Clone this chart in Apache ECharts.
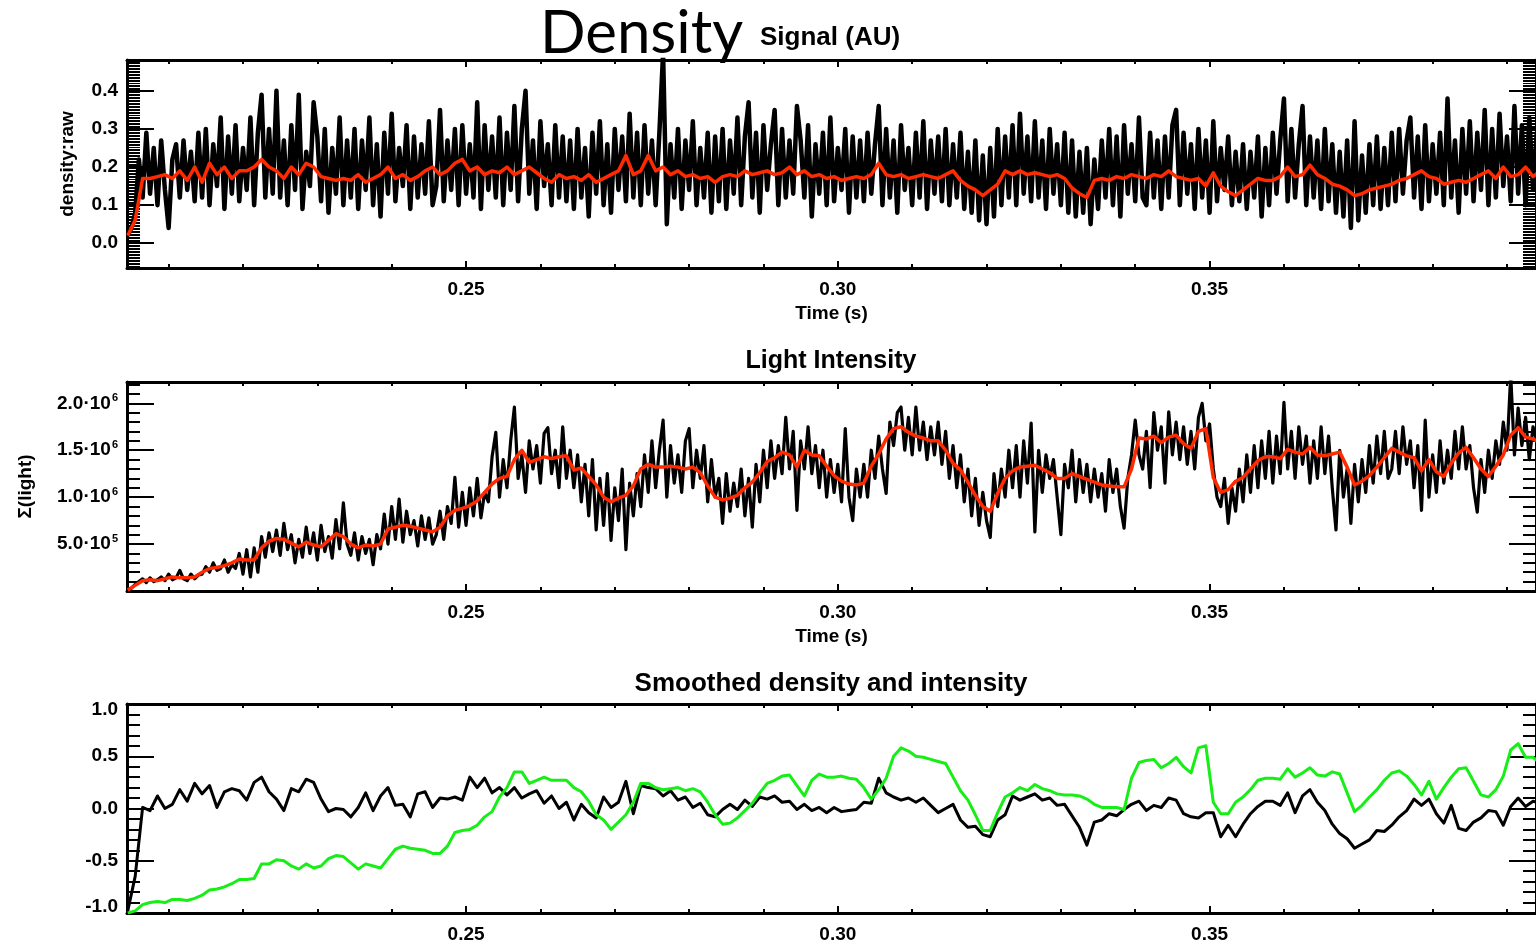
<!DOCTYPE html>
<html><head><meta charset="utf-8">
<script src="https://cdn.jsdelivr.net/npm/echarts@6/dist/echarts.min.js"></script>
<style>html,body{margin:0;padding:0;background:#fff}#c{width:1536px;height:946px}</style>
</head><body><div id="c"></div>
<script>
// ---- sampling of the time axis (s) ----
const RAW_T0 = 0.2045, RAW_DT = 0.0005;
const SM_T0 = 0.2045, SM_DT = 0.001;

// ---- panel 1: raw density (AU) ----
const densityRaw = [
0.02,0.04,0.08,0.22,0.12,0.29,0.13,0.25,0.1,0.27,0.14,0.04,0.22,0.26,0.12,0.27,0.14,0.24,0.11,0.29,
0.12,0.3,0.1,0.26,0.15,0.33,0.09,0.28,0.13,0.31,0.11,0.25,0.14,0.33,0.1,0.29,0.39,0.12,0.3,0.13,
0.4,0.12,0.27,0.1,0.31,0.14,0.39,0.09,0.24,0.15,0.37,0.28,0.11,0.3,0.08,0.25,0.13,0.33,0.1,0.27,
0.12,0.3,0.09,0.27,0.14,0.33,0.1,0.26,0.07,0.29,0.13,0.34,0.11,0.25,0.15,0.31,0.09,0.28,0.12,0.26,
0.13,0.32,0.1,0.15,0.35,0.11,0.27,0.14,0.3,0.1,0.31,0.13,0.26,0.12,0.37,0.09,0.31,0.14,0.28,
0.12,0.33,0.1,0.29,0.14,0.36,0.11,0.3,0.4,0.13,0.27,0.09,0.32,0.15,0.26,0.1,0.31,0.12,0.28,0.11,
0.27,0.09,0.3,0.12,0.25,0.07,0.29,0.13,0.32,0.1,0.26,0.08,0.3,0.14,0.28,0.11,0.34,0.12,0.29,0.1,
0.31,0.13,0.27,0.1,0.29,0.5,0.05,0.26,0.12,0.3,0.09,0.27,0.14,0.32,0.1,0.25,0.12,0.29,0.08,0.28,
0.11,0.3,0.09,0.27,0.13,0.33,0.1,0.28,0.37,0.12,0.29,0.08,0.31,0.14,0.26,0.35,0.1,0.3,0.12,0.27,
0.13,0.36,0.27,0.12,0.31,0.07,0.26,0.13,0.29,0.1,0.33,0.11,0.25,0.14,0.3,0.08,0.28,0.12,0.27,
0.11,0.29,0.13,0.26,0.36,0.1,0.3,0.12,0.27,0.08,0.31,0.14,0.25,0.1,0.29,0.12,0.32,0.09,0.27,0.13,
0.28,0.11,0.3,0.1,0.26,0.12,0.29,0.09,0.24,0.08,0.27,0.06,0.23,0.05,0.25,0.07,0.3,0.1,0.28,0.12,
0.31,0.1,0.34,0.13,0.28,0.11,0.32,0.12,0.27,0.09,0.3,0.13,0.26,0.1,0.29,0.08,0.27,0.07,0.24,0.08,
0.25,0.05,0.22,0.09,0.27,0.12,0.3,0.1,0.28,0.07,0.31,0.13,0.26,0.11,0.33,0.12,0.1,0.29,0.12,0.27,0.09,
0.28,0.12,0.31,0.35,0.1,0.29,0.13,0.26,0.09,0.3,0.12,0.27,0.08,0.32,0.11,0.25,0.14,0.28,0.1,0.24,
0.11,0.26,0.09,0.24,0.12,0.28,0.07,0.25,0.1,0.29,0.13,0.27,0.38,0.11,0.3,0.12,0.26,0.36,0.1,0.28,
0.12,0.27,0.09,0.3,0.11,0.26,0.08,0.24,0.07,0.27,0.04,0.32,0.06,0.23,0.08,0.26,0.1,0.28,0.09,0.25,0.1,
0.29,0.11,0.3,0.13,0.27,0.33,0.12,0.28,0.09,0.31,0.11,0.26,0.13,0.29,0.1,0.38,0.12,0.27,0.08,0.3,
0.13,0.32,0.11,0.29,0.14,0.35,0.1,0.3,0.12,0.34,0.15,0.28,0.11,0.36,0.13,0.31,0.1,0.33,0.14,0.29,
0.12,0.3,0.15];

// ---- panel 1: smoothed density (AU) ----
const densitySmooth = [
0.02,0.06,0.17,0.17,0.175,0.18,0.17,0.19,0.165,0.2,
0.16,0.21,0.18,0.2,0.17,0.19,0.19,0.2,0.22,0.2,
0.19,0.17,0.2,0.18,0.21,0.2,0.175,0.17,0.165,0.17,
0.165,0.18,0.16,0.17,0.18,0.2,0.17,0.18,0.165,0.175,
0.19,0.2,0.18,0.19,0.21,0.22,0.19,0.2,0.18,0.19,
0.185,0.2,0.18,0.19,0.2,0.185,0.17,0.16,0.18,0.17,
0.175,0.165,0.18,0.16,0.17,0.18,0.19,0.23,0.18,0.19,
0.23,0.19,0.2,0.18,0.19,0.175,0.18,0.17,0.175,0.16,
0.175,0.18,0.175,0.19,0.18,0.185,0.19,0.18,0.185,0.2,
0.18,0.19,0.175,0.18,0.17,0.175,0.165,0.17,0.175,0.17,
0.18,0.21,0.18,0.175,0.18,0.17,0.175,0.18,0.175,0.17,
0.18,0.19,0.165,0.15,0.14,0.125,0.14,0.155,0.19,0.18,
0.19,0.18,0.185,0.18,0.175,0.18,0.17,0.145,0.13,0.12,
0.165,0.17,0.165,0.175,0.17,0.18,0.175,0.17,0.18,0.175,
0.19,0.175,0.17,0.165,0.17,0.15,0.185,0.15,0.135,0.125,
0.14,0.155,0.17,0.165,0.165,0.175,0.2,0.175,0.18,0.205,
0.18,0.17,0.155,0.15,0.14,0.125,0.13,0.14,0.145,0.15,
0.155,0.165,0.17,0.18,0.19,0.175,0.17,0.155,0.16,0.165,
0.16,0.17,0.18,0.19,0.17,0.2,0.175,0.18,0.2,0.175,
0.19,0.18];

// ---- panel 2: raw light intensity (millions) ----
const lightRawM = [
0.0,0.03,0.07,0.1,0.13,0.09,0.14,0.1,0.12,0.15,0.11,0.18,0.12,0.14,0.22,0.13,0.11,0.18,0.13,0.17,
0.18,0.26,0.2,0.3,0.22,0.24,0.33,0.2,0.28,0.24,0.4,0.18,0.44,0.15,0.46,0.2,0.58,0.36,0.62,0.42,
0.65,0.38,0.72,0.44,0.6,0.3,0.55,0.36,0.68,0.4,0.62,0.33,0.7,0.42,0.58,0.35,0.76,0.45,0.94,0.5,
0.38,0.62,0.33,0.58,0.4,0.55,0.28,0.6,0.45,0.82,0.5,0.9,0.55,0.98,0.52,0.85,0.6,0.75,0.48,0.8,
0.55,0.78,0.5,0.6,0.85,0.55,0.9,0.72,1.21,0.68,1.05,0.7,1.1,0.8,1.2,0.78,1.05,0.95,1.43,
1.69,1.0,1.4,1.1,1.6,1.96,1.2,1.45,1.05,1.6,1.3,1.55,1.15,1.68,1.74,1.25,1.5,1.1,1.75,1.2,
1.5,1.1,1.45,0.95,1.35,0.8,1.4,0.65,1.2,0.7,1.25,0.54,1.1,0.75,1.3,0.44,1.15,0.8,1.25,0.9,
1.45,1.05,1.6,1.1,1.5,1.82,1.0,1.55,1.15,1.45,1.05,1.6,1.73,1.1,1.5,1.2,1.55,0.95,1.4,1.0,
1.2,0.72,1.25,0.85,1.15,0.9,1.3,0.8,1.2,0.68,1.35,0.95,1.5,1.1,1.6,1.2,1.55,1.25,1.85,1.3,
1.7,0.86,1.6,1.3,1.75,1.25,1.55,1.1,1.5,1.0,1.4,1.05,1.35,0.95,1.73,1.0,0.75,1.3,1.0,
1.35,1.0,1.5,1.2,1.65,1.3,1.04,1.8,1.55,1.9,1.96,1.5,1.85,1.45,1.96,1.5,1.8,1.4,1.75,1.45,
1.8,1.35,1.7,1.2,1.55,1.1,1.45,0.95,1.3,0.8,1.2,0.7,1.05,0.75,0.57,1.25,0.9,1.3,1.0,1.5,
1.1,1.55,1.0,1.6,1.15,1.79,0.63,1.5,1.05,1.45,1.2,1.4,1.0,0.6,1.35,1.1,1.5,0.95,1.4,1.05,
1.35,0.95,1.3,1.0,1.25,0.85,1.4,1.05,1.3,0.9,0.67,1.2,1.45,1.82,1.45,1.3,1.7,1.1,1.9,1.5,1.75,
1.15,1.91,1.45,1.8,1.4,1.75,1.35,1.7,1.3,1.85,2.0,1.6,1.78,1.3,1.0,0.9,1.2,0.72,1.1,0.85,
1.3,0.95,1.45,1.05,1.55,1.1,1.6,1.2,1.7,1.15,1.65,1.25,2.01,1.3,1.7,1.2,1.75,1.35,1.65,1.15,
1.6,1.2,1.75,1.25,1.65,1.1,0.65,1.5,1.0,1.3,0.72,1.35,0.95,1.4,1.05,1.55,1.15,1.65,1.25,1.7,1.2,
1.3,1.7,1.25,1.75,1.35,1.6,1.1,1.55,0.86,1.82,1.0,1.45,1.05,1.6,1.15,1.5,1.2,1.7,1.3,1.75,
1.3,1.55,1.1,0.84,1.4,1.05,1.5,1.2,1.6,1.35,1.8,1.5,2.3,1.45,1.95,1.55,1.85,1.4,1.75,1.6,
1.5,1.7,1.45];

// ---- panel 2: smoothed light intensity (millions) ----
const lightSmoothM = [
0.01,0.06,0.11,0.12,0.11,0.13,0.15,0.14,0.14,0.15,
0.2,0.24,0.25,0.27,0.3,0.34,0.33,0.33,0.46,0.53,
0.56,0.55,0.51,0.47,0.52,0.49,0.47,0.54,0.61,0.58,
0.5,0.46,0.49,0.48,0.5,0.66,0.68,0.7,0.69,0.67,
0.65,0.63,0.68,0.8,0.86,0.88,0.91,0.96,1.05,1.14,
1.2,1.22,1.4,1.5,1.37,1.4,1.43,1.41,1.43,1.44,
1.29,1.31,1.22,1.13,1.0,0.95,0.99,1.02,1.12,1.3,
1.35,1.32,1.32,1.33,1.32,1.3,1.32,1.26,1.12,1.0,
0.97,0.99,1.02,1.1,1.16,1.26,1.38,1.42,1.48,1.45,
1.32,1.5,1.45,1.44,1.33,1.23,1.17,1.14,1.13,1.15,
1.33,1.46,1.62,1.73,1.75,1.69,1.65,1.63,1.6,1.6,
1.5,1.36,1.29,1.16,1.02,0.9,0.85,1.04,1.2,1.28,
1.32,1.33,1.34,1.3,1.26,1.2,1.2,1.25,1.22,1.19,
1.16,1.13,1.12,1.11,1.11,1.3,1.63,1.62,1.65,1.58,
1.64,1.66,1.57,1.52,1.7,1.73,1.21,1.05,1.08,1.17,
1.21,1.3,1.39,1.43,1.43,1.41,1.51,1.48,1.46,1.53,
1.45,1.44,1.46,1.48,1.32,1.13,1.17,1.23,1.32,1.42,
1.52,1.48,1.44,1.42,1.28,1.4,1.27,1.22,1.36,1.47,
1.53,1.42,1.3,1.22,1.33,1.45,1.66,1.74,1.64,1.62,
1.58,1.55];

// ---- panel 3: normalised smoothed density (black) and intensity (green) ----
const densityNorm = [
-0.98,-0.65,0.01,-0.02,0.12,0.0,0.04,0.18,0.07,0.24,
0.14,0.22,0.01,0.16,0.19,0.17,0.08,0.25,0.3,0.16,
0.09,-0.02,0.19,0.16,0.28,0.25,0.09,-0.03,0.0,-0.01,
-0.08,0.01,0.15,-0.02,0.12,0.2,0.03,0.04,-0.08,0.14,
0.16,0.01,0.1,0.09,0.11,0.08,0.3,0.2,0.29,0.15,
0.2,0.13,0.2,0.1,0.14,0.17,0.05,0.12,0.0,0.06,
-0.11,0.04,-0.04,-0.09,0.11,0.01,0.06,0.26,-0.05,0.22,
0.2,0.19,0.12,0.17,0.08,0.11,0.01,0.05,-0.06,-0.08,
-0.01,0.04,-0.01,0.08,0.02,0.11,0.09,0.12,0.06,0.07,
-0.01,0.04,-0.02,0.01,-0.04,0.01,-0.03,-0.02,-0.01,0.06,
0.05,0.29,0.15,0.11,0.08,0.1,0.06,0.1,0.03,-0.04,
0.0,0.04,-0.11,-0.18,-0.17,-0.25,-0.27,-0.11,-0.06,0.12,
0.08,0.11,0.14,0.08,0.1,0.03,0.04,-0.07,-0.18,-0.35,
-0.13,-0.11,-0.05,-0.07,-0.01,0.04,0.07,-0.02,0.03,0.01,
0.1,0.08,-0.05,-0.08,-0.09,-0.04,-0.04,-0.27,-0.16,-0.27,
-0.15,-0.05,0.02,0.07,0.07,0.03,0.15,-0.04,0.12,0.18,
0.06,-0.02,-0.15,-0.24,-0.29,-0.38,-0.34,-0.3,-0.21,-0.22,
-0.16,-0.08,-0.02,0.09,0.03,0.09,-0.05,-0.14,0.03,-0.19,
-0.21,-0.13,-0.09,-0.02,-0.03,-0.16,0.02,0.1,0.02,0.07,
0.05,0.06];
const lightNorm = [
-1.0,-0.98,-0.92,-0.9,-0.89,-0.9,-0.87,-0.87,-0.88,-0.86,
-0.83,-0.78,-0.77,-0.75,-0.72,-0.68,-0.68,-0.67,-0.53,-0.53,
-0.49,-0.5,-0.55,-0.58,-0.53,-0.57,-0.55,-0.48,-0.45,-0.46,
-0.52,-0.58,-0.53,-0.55,-0.57,-0.48,-0.39,-0.36,-0.38,-0.39,
-0.4,-0.43,-0.43,-0.36,-0.23,-0.21,-0.2,-0.16,-0.08,-0.03,
0.11,0.2,0.35,0.35,0.24,0.27,0.3,0.27,0.27,0.27,
0.2,0.16,0.07,-0.06,-0.11,-0.2,-0.13,-0.06,0.06,0.24,
0.24,0.2,0.18,0.19,0.2,0.17,0.19,0.16,0.06,-0.06,
-0.15,-0.14,-0.09,-0.02,0.05,0.15,0.24,0.27,0.31,0.32,
0.22,0.12,0.27,0.33,0.3,0.3,0.31,0.29,0.28,0.2,
0.09,0.18,0.29,0.5,0.58,0.55,0.5,0.49,0.47,0.45,
0.43,0.3,0.17,0.08,-0.06,-0.21,-0.21,-0.04,0.11,0.15,
0.2,0.17,0.23,0.19,0.17,0.14,0.13,0.13,0.12,0.09,
0.04,0.01,0.01,0.01,-0.01,0.29,0.44,0.46,0.47,0.39,
0.43,0.49,0.4,0.34,0.58,0.6,0.06,-0.05,-0.05,0.06,
0.11,0.18,0.27,0.29,0.29,0.28,0.38,0.3,0.34,0.39,
0.32,0.31,0.35,0.33,0.15,-0.03,0.03,0.11,0.18,0.27,
0.34,0.36,0.31,0.23,0.13,0.26,0.09,0.2,0.3,0.38,
0.39,0.26,0.13,0.11,0.18,0.31,0.56,0.62,0.49,0.49,
0.43,0.41];

// ---- tick values / labels ----
const xLabelTicks = [0.25, 0.30, 0.35];
const xMinorTicks = [0.21,0.22,0.23,0.24,0.26,0.27,0.28,0.29,0.31,0.32,0.33,0.34,0.36,0.37,0.38,0.39];
const densityTicks = [0.0, 0.1, 0.2, 0.3, 0.4];
const lightTickValues = [0.5, 1.0, 1.5, 2.0];
const lightTickMant = ['5.0', '1.0', '1.5', '2.0'];
const lightTickExp = ['5', '6', '6', '6'];
const lightMinorTicks = [0.1,0.2,0.3,0.4,0.6,0.7,0.8,0.9,1.1,1.2,1.3,1.4,1.6,1.7,1.8,1.9,2.1,2.2];
const normLabelTicks = [-1.0, -0.5, 0.0, 0.5, 1.0];
const normMajorTicks = [-0.5, 0.0, 0.5];
const normMinorTicks = [-0.9,-0.8,-0.7,-0.6,-0.4,-0.3,-0.2,-0.1,0.1,0.2,0.3,0.4,0.6,0.7,0.8,0.9];

// ---- layout / style ----
const X_MIN = 0.2044, X_MAX = 0.3939;
const FONT = '"Liberation Sans", Arial, sans-serif';
const LBL = {color:'#000', fontFamily:FONT, fontWeight:'bold', fontSize:19};
const densMinor = [];
for (let k = -16; k <= 119; k++) { if (k % 25 !== 0) densMinor.push(+(k*0.004).toFixed(4)); }

function pairs(arr, t0, dt) { return arr.map((v, i) => [t0 + i*dt, v]); }

const NOLINE = {show:false, onZero:false};
function xAxes(gi, name) {
  const base = {gridIndex:gi, type:'value', min:X_MIN, max:X_MAX, splitLine:{show:false}};
  const line = {show:true, onZero:false, lineStyle:{color:'#000', width:3}};
  return [
    Object.assign({}, base, {position:'bottom', axisLine:line,
      axisTick:{show:true, inside:true, length:7, customValues:xLabelTicks, lineStyle:{color:'#000', width:2}},
      axisLabel:Object.assign({show:true, customValues:xLabelTicks, margin:12, formatter:v=>v.toFixed(2)}, LBL),
      name:name||'', nameLocation:'middle', nameGap:36,
      nameTextStyle:{color:'#000', fontFamily:FONT, fontWeight:'bold', fontSize:19}}),
    Object.assign({}, base, {position:'bottom', axisLine:NOLINE,
      axisTick:{show:true, inside:true, length:4, customValues:xMinorTicks, lineStyle:{color:'#000', width:2}},
      axisLabel:{show:false}}),
    Object.assign({}, base, {position:'top', axisLine:line,
      axisTick:{show:true, inside:true, length:7, customValues:xLabelTicks, lineStyle:{color:'#000', width:2}},
      axisLabel:{show:false}}),
    Object.assign({}, base, {position:'top', axisLine:NOLINE,
      axisTick:{show:true, inside:true, length:4, customValues:xMinorTicks, lineStyle:{color:'#000', width:2}},
      axisLabel:{show:false}})
  ];
}
function yAxes(gi, min, max, majors, minors, minorW, labels, fmt, rich, name, nameGap) {
  const base = {gridIndex:gi, type:'value', min:min, max:max, splitLine:{show:false}};
  const line = {show:true, onZero:false, lineStyle:{color:'#000', width:3}};
  const out = [];
  out.push(Object.assign({}, base, {position:'left', axisLine:line,
    axisTick:{show:true, inside:true, length:27, customValues:majors, lineStyle:{color:'#000', width:2}},
    axisLabel:Object.assign({show:true, customValues:labels, margin:9, formatter:fmt, rich:rich||{}}, LBL),
    name:name||'', nameLocation:'middle', nameGap:nameGap||0,
    nameTextStyle:{color:'#000', fontFamily:FONT, fontWeight:'bold', fontSize:19}}));
  out.push(Object.assign({}, base, {position:'left', axisLine:NOLINE,
    axisTick:{show:true, inside:true, length:13, customValues:minors, lineStyle:{color:'#000', width:minorW}},
    axisLabel:{show:false}}));
  out.push(Object.assign({}, base, {position:'right', axisLine:line,
    axisTick:{show:true, inside:true, length:27, customValues:majors, lineStyle:{color:'#000', width:2}},
    axisLabel:{show:false}}));
  out.push(Object.assign({}, base, {position:'right', axisLine:NOLINE,
    axisTick:{show:true, inside:true, length:13, customValues:minors, lineStyle:{color:'#000', width:minorW}},
    axisLabel:{show:false}}));
  return out;
}

const lightFmt = v => {
  const k = lightTickValues.findIndex(x => Math.abs(x - v) < 1e-9);
  return k < 0 ? '' : '{m|' + lightTickMant[k] + '·10}{e|' + lightTickExp[k] + '}';
};
const lightRich = {
  m:{color:'#000', fontFamily:FONT, fontWeight:'bold', fontSize:19, lineHeight:22},
  e:{color:'#000', fontFamily:FONT, fontWeight:'bold', fontSize:11, lineHeight:11, verticalAlign:'top', padding:[0,0,0,1]}
};
const normFmt = v => {
  if (Math.abs(v - 1) < 1e-9) return '{t|1.0}';
  if (Math.abs(v + 1) < 1e-9) return '{b|-1.0}';
  return '{n|' + v.toFixed(1) + '}';
};
const normRich = {
  n:{color:'#000', fontFamily:FONT, fontWeight:'bold', fontSize:19},
  t:{color:'#000', fontFamily:FONT, fontWeight:'bold', fontSize:19, padding:[12,0,0,0]},
  b:{color:'#000', fontFamily:FONT, fontWeight:'bold', fontSize:19, padding:[0,0,12,0]}
};

const xAxis = [].concat(xAxes(0, 'Time (s)'), xAxes(1, 'Time (s)'), xAxes(2, ''));
const yAxis = [].concat(
  yAxes(0, -0.065, 0.481, densityTicks, densMinor, 1, densityTicks, v => v.toFixed(1), null, 'density:raw', 50),
  yAxes(1, 0, 2.227, lightTickValues, lightMinorTicks, 2, lightTickValues, lightFmt, lightRich, 'Σ(light)', 92),
  yAxes(2, -1, 1, normMajorTicks, normMinorTicks, 2, normLabelTicks, normFmt, normRich, '', 0)
);

const lineS = (name, data, xi, yi, color, w) => ({
  name, type:'line', data, xAxisIndex:xi, yAxisIndex:yi, showSymbol:false, symbol:'none',
  clip:true, lineStyle:{color, width:w, join:'round'}, itemStyle:{color}, z:3, silent:true
});

const option = {
  animation:false,
  backgroundColor:'#fff',
  grid:[
    {left:127, right:0, top:60, height:208},
    {left:127, right:0, top:382, height:209},
    {left:127, right:0, top:704, height:209}
  ],
  xAxis, yAxis,
  series:[
    lineS('density raw', pairs(densityRaw, RAW_T0, RAW_DT), 0, 0, '#000', 4.5),
    lineS('density smooth', pairs(densitySmooth, SM_T0, SM_DT), 0, 0, '#ff2a00', 3.5),
    lineS('light raw', pairs(lightRawM, RAW_T0, RAW_DT), 4, 4, '#000', 3.2),
    lineS('light smooth', pairs(lightSmoothM, SM_T0, SM_DT), 4, 4, '#ff2a00', 3.5),
    lineS('density norm', pairs(densityNorm, SM_T0, SM_DT), 8, 8, '#000', 3),
    lineS('light norm', pairs(lightNorm, SM_T0, SM_DT), 8, 8, '#16ee16', 3)
  ],
  graphic:[
    {type:'text', x:540, y:34, style:{text:'Density', font:'normal 60px Lato, "Open Sans", sans-serif', fill:'#000', textAlign:'left', textVerticalAlign:'middle'}},
    {type:'text', x:760, y:38, style:{text:'Signal (AU)', font:'bold 26px "Liberation Sans", Arial, sans-serif', fill:'#000', textAlign:'left', textVerticalAlign:'middle'}},
    {type:'text', x:831, y:361, style:{text:'Light Intensity', font:'bold 25px "Liberation Sans", Arial, sans-serif', fill:'#000', textAlign:'center', textVerticalAlign:'middle'}},
    {type:'text', x:831, y:684, style:{text:'Smoothed density and intensity', font:'bold 26px "Liberation Sans", Arial, sans-serif', fill:'#000', textAlign:'center', textVerticalAlign:'middle'}}
  ]
};
const chart = echarts.init(document.getElementById('c'), null, {renderer:'canvas'});
chart.setOption(option);
</script>
</body></html>
